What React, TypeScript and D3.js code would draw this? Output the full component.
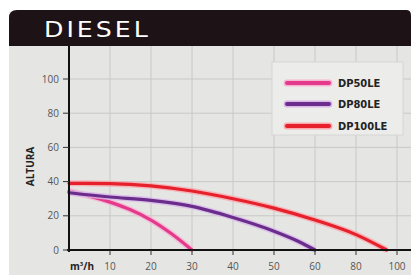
import * as d3 from "d3";

// axis ticks (the x axis is not linear: 60 -> 80 -> 100 are spaced like steps of 10)
const xTicks = [10, 20, 30, 40, 50, 60, 80, 100];
const yTicks = [0, 20, 40, 60, 80, 100];

const seriesNames = ["DP50LE", "DP80LE", "DP100LE"];
const seriesColors = ["#e43a8c", "#6a2d8c", "#e6212b"];
const glowColors = ["#f7b3d2", "#d9b6ea", "#f9a8ae"];

// flow (m3/h) and head (altura)
const dp50Flow = [0, 5, 10, 15, 20, 25, 30];
const dp50Head = [34.5, 31.5, 28, 23.5, 17.5, 9.5, 0];
const dp80Flow = [0, 10, 20, 30, 40, 50, 56, 60];
const dp80Head = [33.5, 31, 29, 25.5, 19, 11, 5, 0];
const dp100Flow = [0, 10, 20, 30, 40, 50, 60, 80, 95];
const dp100Head = [39, 38.8, 37.5, 34.5, 30, 24.5, 17.5, 9, 0];

const flows = [dp50Flow, dp80Flow, dp100Flow];
const heads = [dp50Head, dp80Head, dp100Head];

export default function App() {
  const W = 411;
  const H = 277;

  const x = d3
    .scaleLinear()
    .domain([0, 10, 20, 30, 40, 50, 60, 80, 100])
    .range([69, 110, 151, 192, 233, 274, 315, 356, 397]);
  const y = d3.scaleLinear().domain([0, 100]).range([250, 79]);

  const line = d3
    .line<[number, number]>()
    .x((d) => x(d[0]))
    .y((d) => y(d[1]))
    .curve(d3.curveMonotoneX);

  return (
    <svg
      width={W}
      height={H}
      style={{ position: "absolute", left: 0, top: 0 }}
      fontFamily="'Open Sans', 'DejaVu Sans', sans-serif"
    >
      <rect x={0} y={0} width={W} height={H} fill="#ffffff" />
      <rect x={9} y={12} width={W - 9} height={263} fill="#e5e5e3" />

      {/* grid */}
      {xTicks.map((t) => (
        <line key={"gx" + t} x1={x(t)} x2={x(t)} y1={46} y2={250} stroke="#c8c8c6" strokeWidth={1} />
      ))}
      {yTicks.slice(1).map((t) => (
        <line key={"gy" + t} x1={69} x2={W} y1={y(t)} y2={y(t)} stroke="#c8c8c6" strokeWidth={1} />
      ))}

      {/* header */}
      <path d={`M9,46 V18 Q9,10 17,10 H${W - 4} Q${W},10 ${W},16 V46 Z`} fill="#1d1316" />
      <text
        transform="translate(44,37) scale(1.2,1)"
        fill="#ffffff"
        fontSize={21}
        fontFamily="'DejaVu Sans', sans-serif"
        letterSpacing={2.5}
      >
        DIESEL
      </text>

      {/* curves */}
      {flows.map((f, i) => {
        const pts = f.map((v, j) => [v, heads[i][j]] as [number, number]);
        return (
          <g key={seriesNames[i]}>
            <path d={line(pts) || ""} fill="none" stroke={glowColors[i]} strokeWidth={6} strokeOpacity={0.8} />
            <path d={line(pts) || ""} fill="none" stroke={seriesColors[i]} strokeWidth={3.2} strokeLinecap="round" />
          </g>
        );
      })}

      {/* axes */}
      <line x1={69} x2={69} y1={46} y2={252} stroke="#111" strokeWidth={2} />
      <line x1={67} x2={W} y1={250} y2={250} stroke="#111" strokeWidth={2} />
      {yTicks.map((t) => (
        <g key={"yt" + t}>
          <line x1={63} x2={69} y1={y(t)} y2={y(t)} stroke="#333" strokeWidth={1} />
          <text x={59} y={y(t) + 3.5} textAnchor="end" fontSize={10} fill="#555">
            {t}
          </text>
        </g>
      ))}
      {xTicks.map((t) => (
        <g key={"xt" + t}>
          <line x1={x(t)} x2={x(t)} y1={250} y2={255} stroke="#333" strokeWidth={1} />
          <text x={x(t)} y={270} textAnchor="middle" fontSize={10} fill="#555">
            {t}
          </text>
        </g>
      ))}
      <text x={70} y={270} fontSize={10} fontWeight="bold" fill="#222">
        m<tspan dy={-4} fontSize={6}>3</tspan>
        <tspan dy={4}>/h</tspan>
      </text>
      <text
        transform={`translate(34,${y(50) + 2}) rotate(-90)`}
        textAnchor="middle"
        fontSize={10}
        fontWeight="bold"
        fill="#222"
      >
        ALTURA
      </text>

      {/* legend */}
      <rect x={272} y={62} width={131} height={73} fill="#ececea" stroke="#d6d6d4" />
      {seriesNames.map((n, i) => {
        const ly = [83, 104, 126][i];
        return (
          <g key={"lg" + n}>
            <line x1={287} x2={329} y1={ly} y2={ly} stroke={glowColors[i]} strokeWidth={7} strokeLinecap="round" />
            <line x1={287} x2={329} y1={ly} y2={ly} stroke={seriesColors[i]} strokeWidth={4} strokeLinecap="round" />
            <text x={338} y={ly + 4} fontSize={11} fontWeight="bold" fill="#222" fontFamily="'Liberation Sans Narrow', 'DejaVu Sans Condensed', sans-serif">
              {n}
            </text>
          </g>
        );
      })}
    </svg>
  );
}
